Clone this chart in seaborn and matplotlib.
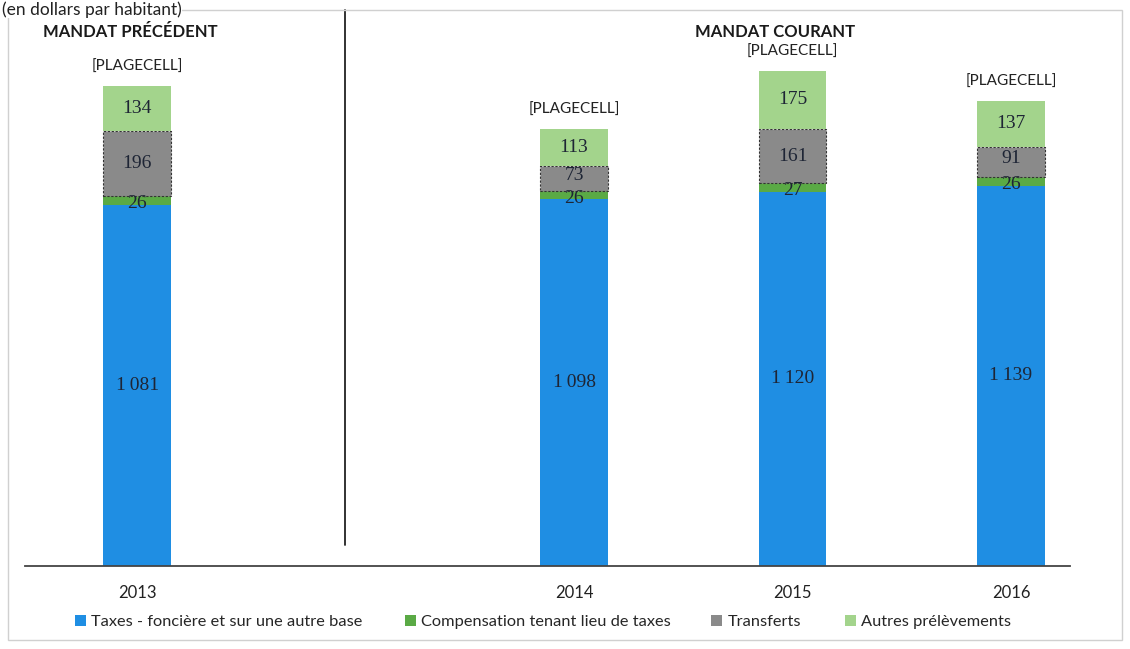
import numpy as np
import pandas as pd
import matplotlib as mpl
import matplotlib.pyplot as plt
import seaborn as sns
from matplotlib.patches import Patch, Rectangle

# data
years = ["2013", "2014", "2015", "2016"]
slots = ["2013", " ", "2014", "2015", "2016"]   # blank slot separates the two mandates
taxes = [1081, 1098, 1120, 1139]
compensation = [26, 26, 27, 26]
transferts = [196, 73, 161, 91]
autres = [134, 113, 175, 137]
series_names = ["Taxes - foncière et sur une autre base",
                "Compensation tenant lieu de taxes",
                "Transferts",
                "Autres prélèvements"]
colors = ["#1f8ee3", "#5aaa45", "#8a8a8a", "#a3d48c"]

sns.set_style("white")
plt.rcParams['font.family'] = ['Lato', 'DejaVu Sans']

fig = plt.figure(figsize=(11.3, 6.49), dpi=100)
ax = fig.add_axes([25/1130, 83/649, 1045/1130, 556/649])

df = pd.DataFrame({"annee": years, "taxes": taxes, "compensation": compensation,
                   "transferts": transferts, "autres": autres})
cols = ["taxes", "compensation", "transferts", "autres"]
bottom = np.zeros(len(years))
for col, c in zip(cols, colors):
    kw = dict(edgecolor="none", linewidth=0)
    if col == "transferts":
        kw = dict(edgecolor="#333333", linewidth=0.8, linestyle=(0, (2, 1.5)))
    sns.barplot(data=df, x="annee", y=col, order=slots, color=c, width=0.31,
                bottom=bottom, ax=ax, saturation=1, **kw)
    vals = df[col].to_numpy()
    for i, (v, b) in enumerate(zip(vals, bottom)):
        xpos = slots.index(years[i])
        lab = f"{v:,}".replace(",", "\u2009")
        # small segments: push the labels a little apart
        dy = 0
        if col == "compensation":
            dy = -2.2
        elif col == "transferts" and v < 100:
            dy = 2.2
        ax.annotate(lab, (xpos, b + v / 2), xytext=(0, dy), textcoords="offset points",
                    ha="center", va="center", fontsize=14,
                    family="Liberation Serif", color="#1e2535")
    bottom = bottom + vals

totals = bottom
for i, t in enumerate(totals):
    ax.text(slots.index(years[i]), t + 57, "[PLAGECELL]", ha="center", va="center",
            fontsize=11, color="#222222")

ax.set_xlim(-0.513, 4.27)
ax.set_ylim(0, 1665)
ax.set_xlabel("")
ax.set_ylabel("")
ax.set_yticks([])
ax.tick_params(axis="x", length=0, labelsize=12, pad=14, colors="#222222")
for s in ["top", "left", "right"]:
    ax.spines[s].set_visible(False)
ax.spines["bottom"].set_color("#444444")
ax.spines["bottom"].set_linewidth(1.3)
ax.set_facecolor("none")

# separator between mandates
ax.plot([0.952, 0.952], [63, 1665], color="#222222", lw=1.3, clip_on=False)
ax.text(-0.03, 1599, "MANDAT PRÉCÉDENT", ha="center", va="center",
        fontsize=12, fontweight="bold", color="#1a1a1a")
ax.text(2.92, 1599, "MANDAT COURANT", ha="center", va="center",
        fontsize=12, fontweight="bold", color="#1a1a1a")

# chart frame and subtitle
fig.patches.append(Rectangle((8/1130, 9/649), 1114/1130, 630/649, transform=fig.transFigure,
                             fill=False, edgecolor="#d0d0d0", lw=1))
fig.text(2/1130, 1 - 1/649, "(en dollars par habitant)", ha="left", va="top",
         fontsize=12.5, color="#222222", zorder=5,
         bbox=dict(facecolor="white", edgecolor="none", pad=0.5))

# legend entries placed like the original
legend_x = [75, 405, 711, 845]
for c, name, x in zip(colors, series_names, legend_x):
    fig.legend([Patch(facecolor=c, edgecolor="none")], [name], loc="center left",
               bbox_to_anchor=(x/1130, 1 - 622/649), frameon=False, fontsize=11.8,
               handlelength=0.7, handleheight=0.7, handletextpad=0.3,
               borderpad=0, borderaxespad=0)

fig.savefig("out.png", dpi=100)
